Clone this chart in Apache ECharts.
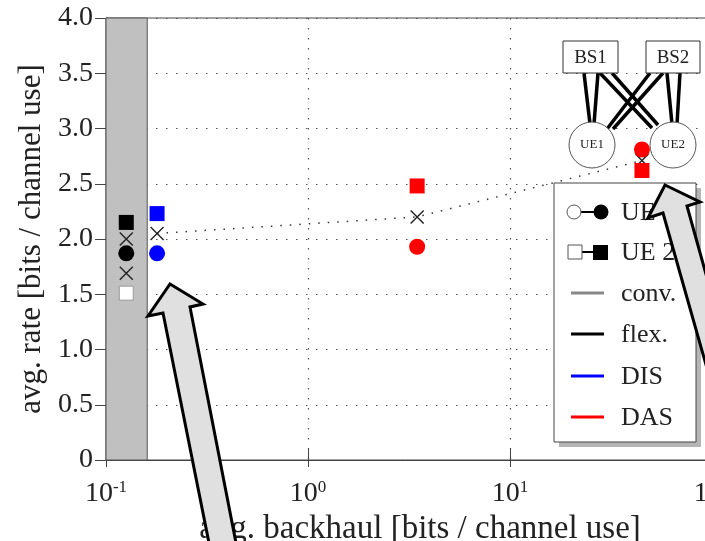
<!DOCTYPE html>
<html>
<head>
<meta charset="utf-8">
<script src="https://cdn.jsdelivr.net/npm/echarts@6/dist/echarts.min.js"></script>
<style>
  html, body { margin: 0; padding: 0; background: #fff; }
  #main { width: 705px; height: 541px; }
</style>
</head>
<body>
<div id="main"></div>
<script>
// data (x = avg. backhaul, y = avg. rate)
var convBand = [0.1, 0.16];
var flexUE1 = [[0.126, 1.87]];
var flexUE2 = [[0.126, 2.15]];
var convUE2 = [[0.126, 1.51]];
var flexAvg = [[0.126, 2.00], [0.126, 1.69]];
var disUE1 = [[0.179, 1.87]];
var disUE2 = [[0.179, 2.23]];
var dasUE1 = [[3.47, 1.93], [45, 2.81]];
var dasUE2 = [[3.47, 2.48], [45, 2.62]];
var avgCurve = [[0.179, 2.05], [3.47, 2.20], [45, 2.71]];

var legendNames = ['UE 1', 'UE 2', 'conv.', 'flex.', 'DIS', 'DAS'];
var legendColors = ['#000', '#000', '#888', '#000', '#0000ff', '#ff0000'];

var FONT = '"Liberation Serif", "DejaVu Serif", serif';
var crossSym = 'path://M0 0L10 10M10 0L0 10';
var dotted = { type: [1.5, 8.5], color: '#555', width: 1.2 };

var myChart = echarts.init(document.getElementById('main'));

// legend box drawn by hand (composite icons)
var legendEls = [
    { type: 'rect', z: 10, shape: { x: 559, y: 188, width: 142, height: 259 }, style: { fill: '#b5b5b5' } },
    { type: 'rect', z: 10, shape: { x: 554, y: 183, width: 142, height: 259 }, style: { fill: '#fff', stroke: '#444', lineWidth: 1 } }
];
var rowY = [212, 252, 293, 334, 376, 417];
legendNames.forEach(function (n, i) {
    var y = rowY[i];
    if (i === 0) {
        legendEls.push({ type: 'line', z: 11, shape: { x1: 574, y1: y, x2: 601, y2: y }, style: { stroke: '#000', lineWidth: 2 } });
        legendEls.push({ type: 'circle', z: 11, shape: { cx: 574, cy: y, r: 7 }, style: { fill: '#fff', stroke: '#555', lineWidth: 1 } });
        legendEls.push({ type: 'circle', z: 11, shape: { cx: 601, cy: y, r: 7.5 }, style: { fill: '#000' } });
    } else if (i === 1) {
        legendEls.push({ type: 'line', z: 11, shape: { x1: 575, y1: y, x2: 600, y2: y }, style: { stroke: '#000', lineWidth: 2 } });
        legendEls.push({ type: 'rect', z: 11, shape: { x: 568, y: y - 7, width: 14, height: 14 }, style: { fill: '#fff', stroke: '#555', lineWidth: 1 } });
        legendEls.push({ type: 'rect', z: 11, shape: { x: 593, y: y - 7, width: 15, height: 15 }, style: { fill: '#000' } });
    } else {
        legendEls.push({ type: 'line', z: 11, shape: { x1: 571, y1: y, x2: 604, y2: y }, style: { stroke: legendColors[i], lineWidth: 3 } });
    }
    legendEls.push({ type: 'text', z: 11, x: 621, y: y + 1, style: { text: n, font: '26px ' + FONT, fill: '#222', verticalAlign: 'middle' } });
});

// little network sketch (BS1/BS2 -> UE1/UE2)
var netLines = [
    [584, 73, 590, 124], [598, 73, 594, 124],
    [600, 73, 652, 128], [612, 73, 658, 125],
    [650, 73, 607, 129], [663, 73, 613, 129],
    [667, 73, 672, 124], [680, 73, 677, 124]
];
var netEls = netLines.map(function (l) {
    return { type: 'line', z: 3, shape: { x1: l[0], y1: l[1], x2: l[2], y2: l[3] }, style: { stroke: '#000', lineWidth: 3.5 } };
});
netEls.push(
    { type: 'rect', z: 4, shape: { x: 563, y: 41, width: 55, height: 32 }, style: { fill: '#fff', stroke: '#333', lineWidth: 1 } },
    { type: 'rect', z: 4, shape: { x: 646, y: 41, width: 54, height: 32 }, style: { fill: '#fff', stroke: '#333', lineWidth: 1 } },
    { type: 'text', z: 5, x: 590.5, y: 58, style: { text: 'BS1', font: '19px ' + FONT, fill: '#222', align: 'center', verticalAlign: 'middle' } },
    { type: 'text', z: 5, x: 673, y: 58, style: { text: 'BS2', font: '19px ' + FONT, fill: '#222', align: 'center', verticalAlign: 'middle' } },
    { type: 'circle', z: 4, shape: { cx: 592, cy: 145, r: 23 }, style: { fill: '#fff', stroke: '#555', lineWidth: 1 } },
    { type: 'circle', z: 4, shape: { cx: 673, cy: 145, r: 23 }, style: { fill: '#fff', stroke: '#555', lineWidth: 1 } },
    { type: 'text', z: 5, x: 592, y: 145, style: { text: 'UE1', font: '13px ' + FONT, fill: '#222', align: 'center', verticalAlign: 'middle' } },
    { type: 'text', z: 5, x: 673, y: 145, style: { text: 'UE2', font: '13px ' + FONT, fill: '#222', align: 'center', verticalAlign: 'middle' } }
);

// the two big grey arrows
var arrowStyle = { fill: '#e0e0e0', stroke: '#000', lineWidth: 3, lineJoin: 'miter' };
var arrows = [
    { type: 'polygon', z: 20, shape: { points: [[170, 284], [203, 304], [190, 307], [237, 548], [210, 548], [163, 313], [148, 316]] }, style: arrowStyle },
    { type: 'polygon', z: 20, shape: { points: [[665, 185], [700, 202], [687, 206], [741, 400], [716, 400], [663, 213], [648, 218]] }, style: arrowStyle }
];

function logLabel(v) {
    var e = Math.round(Math.log10(v));
    return '{b|10}{s|' + e + '}';
}

myChart.setOption({
    animation: false,
    backgroundColor: '#fff',
    grid: {
        left: 106, top: 18, width: 606, height: 442,
        outerBoundsMode: 'none', containLabel: false,
        show: true, borderColor: '#444', borderWidth: 1, backgroundColor: 'transparent'
    },
    xAxis: [
        {
            type: 'log', logBase: 10, min: 0.1, max: 100,
            name: 'avg. backhaul [bits / channel use]',
            nameLocation: 'middle', nameGap: 48,
            nameTextStyle: { fontFamily: FONT, fontSize: 33, color: '#222', padding: [0, 0, 0, 22] },
            axisLine: { lineStyle: { color: '#444' } },
            axisTick: { inside: false, length: 7, lineStyle: { color: '#444' } },
            minorTick: { show: false },
            axisLabel: {
                margin: 19, formatter: logLabel, hideOverlap: false,
                rich: {
                    b: { fontFamily: FONT, fontSize: 28, color: '#222', lineHeight: 30 },
                    s: { fontFamily: FONT, fontSize: 17, color: '#222', verticalAlign: 'top', lineHeight: 17 }
                }
            },
            splitLine: { show: true, lineStyle: dotted }
        },
        {
            type: 'log', logBase: 10, min: 0.1, max: 100, position: 'bottom',
            axisLine: { show: false },
            axisTick: { inside: true, length: 12, lineStyle: { color: '#444' } },
            axisLabel: { show: false },
            splitLine: { show: false }
        }
    ],
    yAxis: [
        {
            type: 'value', min: 0, max: 4, interval: 0.5,
            name: 'avg. rate [bits / channel use]',
            nameLocation: 'middle', nameGap: 46,
            nameTextStyle: { fontFamily: FONT, fontSize: 31, color: '#222' },
            axisLine: { show: true, lineStyle: { color: '#444' } },
            axisTick: { inside: false, length: 11, lineStyle: { color: '#444' } },
            axisLabel: {
                margin: 13, fontFamily: FONT, fontSize: 28, color: '#222',
                formatter: function (v) { return v === 0 ? '0' : v.toFixed(1); }
            },
            splitLine: { show: true, lineStyle: dotted }
        },
        {
            type: 'value', min: 0, max: 4, interval: 0.5, position: 'left',
            axisLine: { show: false },
            axisTick: { inside: true, length: 12, lineStyle: { color: '#444' } },
            axisLabel: { show: false },
            splitLine: { show: false }
        }
    ],
    graphic: legendEls.concat(netEls, arrows),
    series: [
        {
            name: 'conv. band', type: 'scatter', data: [], z: -1, silent: true,
            markArea: {
                silent: true,
                itemStyle: { color: '#c0c0c0', borderColor: '#555', borderWidth: 1, opacity: 1 },
                data: [[{ xAxis: convBand[0], yAxis: 0 }, { xAxis: convBand[1], yAxis: 4 }]]
            }
        },
        {
            name: 'avg', type: 'line', data: avgCurve, z: 5,
            symbol: crossSym, symbolSize: 13,
            itemStyle: { color: 'none', borderColor: '#222', borderWidth: 1.4, opacity: 1 },
            lineStyle: { type: [1.5, 8], color: '#333', width: 1.5 }
        },
        {
            name: 'flex avg', type: 'scatter', data: flexAvg, z: 5,
            symbol: crossSym, symbolSize: 13,
            itemStyle: { color: 'none', borderColor: '#222', borderWidth: 1.4, opacity: 1 }
        },
        { name: 'flex UE1', type: 'scatter', data: flexUE1, symbol: 'circle', symbolSize: 16, itemStyle: { color: '#000', opacity: 1 } },
        { name: 'flex UE2', type: 'scatter', data: flexUE2, symbol: 'rect', symbolSize: 15, itemStyle: { color: '#000', opacity: 1 } },
        { name: 'conv UE2', type: 'scatter', data: convUE2, symbol: 'rect', symbolSize: 14, itemStyle: { color: '#fff', borderColor: '#999', borderWidth: 1, opacity: 1 } },
        { name: 'DIS UE1', type: 'scatter', data: disUE1, symbol: 'circle', symbolSize: 16, itemStyle: { color: '#0000ff', opacity: 1 } },
        { name: 'DIS UE2', type: 'scatter', data: disUE2, symbol: 'rect', symbolSize: 15, itemStyle: { color: '#0000ff', opacity: 1 } },
        { name: 'DAS UE1', type: 'scatter', data: dasUE1, symbol: 'circle', symbolSize: 16, z: 6, itemStyle: { color: '#ff0000', opacity: 1 } },
        { name: 'DAS UE2', type: 'scatter', data: dasUE2, symbol: 'rect', symbolSize: 15, z: 6, itemStyle: { color: '#ff0000', opacity: 1 } }
    ]
});
</script>
</body>
</html>
